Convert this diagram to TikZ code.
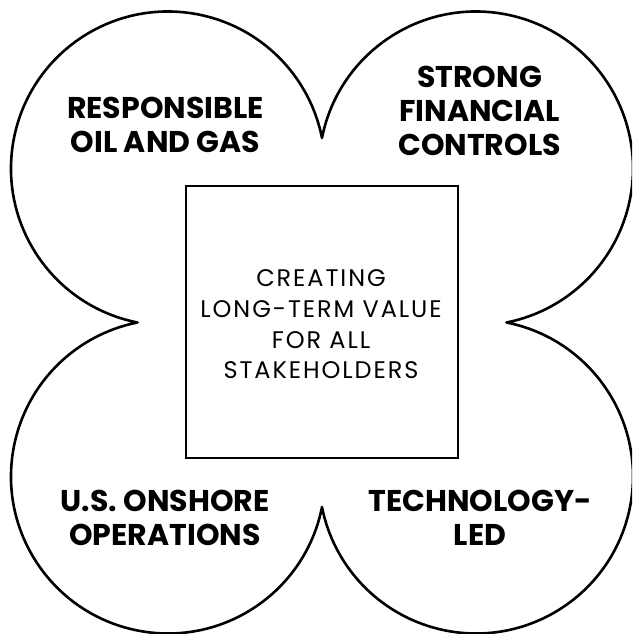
\documentclass[tikz,border=0pt]{standalone}
\usepackage{fontspec}
\setmainfont{Poppins}
\usetikzlibrary{calc}
\begin{document}
\begin{tikzpicture}[x=1pt,y=1pt,
  lobe/.style={line width=2.6pt, line join=round},
  centerbox/.style={draw, line width=2pt, minimum width=272pt, minimum height=272pt, inner sep=0pt},
  cornerlbl/.style={align=center, font=\fontsize{30}{34}\selectfont\bfseries, anchor=base},
  centerlbl/.style={align=center, font=\fontsize{24}{30.7}\selectfont\addfontfeature{LetterSpace=8}, anchor=base}
]
\useasboundingbox (0,0) rectangle (632,634);
\clip (0,0) rectangle (632,634);
\pgfmathsetmacro\lobr{157}
\pgfmathsetmacro\lobd{154}
\pgfmathsetmacro\lobh{sqrt((\lobr-\lobd)*(\lobr+\lobd))}
\pgfmathsetmacro\lobt{atan(\lobh/\lobd)}
\coordinate (ctr) at (322,311.5);
\coordinate (cl) at ($(ctr)+(-\lobd-\lobh,0)$);
\draw[lobe] (cl)
  arc[start angle={270-\lobt}, end angle={\lobt}, radius=\lobr]
  arc[start angle={180-\lobt}, end angle={-90+\lobt}, radius=\lobr]
  arc[start angle={90-\lobt}, end angle={-180+\lobt}, radius=\lobr]
  arc[start angle={-\lobt}, end angle={-270+\lobt}, radius=\lobr]
  -- cycle;
\node[centerbox] (box) at (321.5,312) {};
\node[centerlbl] (core) at (321,255) {CREATING\\LONG-TERM VALUE\\FOR ALL\\STAKEHOLDERS};
\node[cornerlbl] (ul) at (165.5,481) {RESPONSIBLE\\OIL AND GAS};
\node[cornerlbl] (ur) at (479.5,478.5) {STRONG\\FINANCIAL\\CONTROLS};
\node[cornerlbl] (ll) at (165,88) {U.S. ONSHORE\\OPERATIONS};
\node[cornerlbl] (lr) at (480,88) {TECHNOLOGY-\\LED};
\end{tikzpicture}
\end{document}
